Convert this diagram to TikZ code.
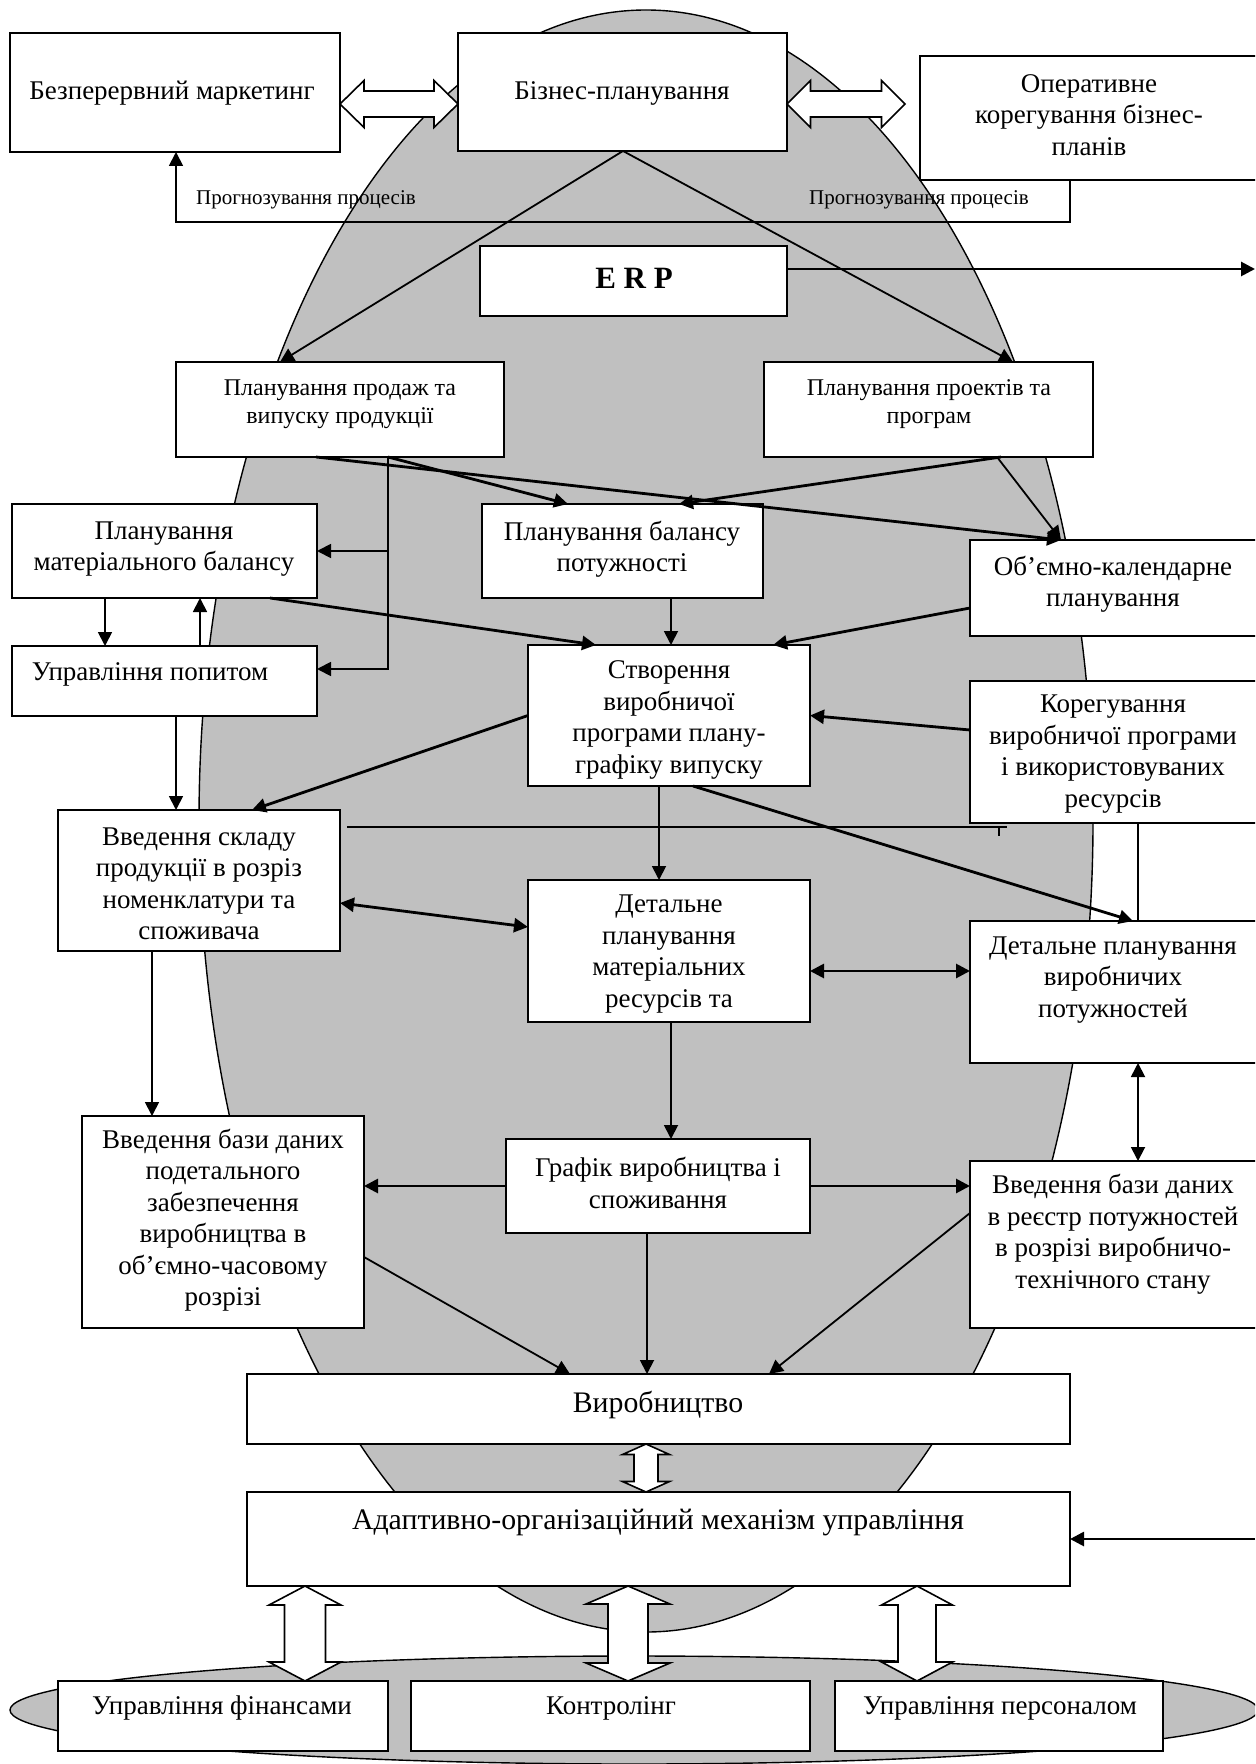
\documentclass[tikz,border=0pt]{standalone}
\usepackage{fontspec}
\setmainfont{Liberation Serif}
\usetikzlibrary{arrows.meta,calc,fit}
\definecolor{grayfill}{RGB}{192,192,192}
\newcommand\hollowV[5]{\path[hollow] let \p1=#1, \p2=#2 in (\x1,\y1) -- (\x1+#4,\y1-#5) -- (\x1+#3,\y1-#5) -- (\x1+#3,\y2+#5) -- (\x1+#4,\y2+#5) -- (\x1,\y2) -- (\x1-#4,\y2+#5) -- (\x1-#3,\y2+#5) -- (\x1-#3,\y1-#5) -- (\x1-#4,\y1-#5) -- cycle;}
\newcommand\hollowH[5]{\path[hollow] let \p1=#1, \p2=#2 in (\x1,\y1) -- (\x1+#5,\y1+#4) -- (\x1+#5,\y1+#3) -- (\x2-#5,\y1+#3) -- (\x2-#5,\y1+#4) -- (\x2,\y1) -- (\x2-#5,\y1-#4) -- (\x2-#5,\y1-#3) -- (\x1+#5,\y1-#3) -- (\x1+#5,\y1-#4) -- cycle;}
\begin{document}
\begin{tikzpicture}[x=0.5pt,y=-0.5pt,
  box/.style={draw, line width=0.8pt, fill=white, inner sep=0pt, outer sep=0pt},
  txt/.style={font=\fontsize{13.5}{15.75}\selectfont, align=center, inner sep=0pt},
  btxt/.style={font=\fontsize{14.9}{17}\selectfont, align=center, inner sep=0pt},
  stxt/.style={font=\fontsize{12}{14}\selectfont, align=center, inner sep=0pt},
  lbl/.style={font=\fontsize{10.5}{12}\selectfont, inner sep=0pt},
  ln/.style={line width=0.9pt},
  tk/.style={line width=1.4pt},
  arr/.style={-{Triangle[length=7pt,width=7pt]}},
  darr/.style={{Triangle[length=7pt,width=7pt]}-{Triangle[length=7pt,width=7pt]}},
  hollow/.style={draw, line width=0.8pt, fill=white, line join=miter},
  bg/.style={draw, line width=0.7pt, fill=grayfill}]
\useasboundingbox (0,0) rectangle (1255,1764);
\clip (0,0) rectangle (1255,1764);
\fill[white] (0,0) rectangle (1255,1764);
% background ellipses
\path[bg] (646,821) ellipse [x radius=223.5pt, y radius=405.5pt];
\path[bg] (634,1710) ellipse [x radius=312pt, y radius=27pt];
% boxes
\node[box, fit={(10,33) (340,152)}] (mark) {};
\node[box, fit={(458,33) (787,151)}] (biz) {};
\node[box, fit={(920,56) (1258,180)}] (oper) {};
\node[box, fit={(480,246) (787,316)}] (erp) {};
\node[box, fit={(176,362) (504,457)}] (prod) {};
\node[box, fit={(764,362) (1093,457)}] (proj) {};
\node[box, fit={(12,504) (317,598)}] (matb) {};
\node[box, fit={(482,504) (763,598)}] (balp) {};
\node[box, fit={(970,540) (1258,636)}] (obk) {};
\node[box, fit={(12,646) (317,716)}] (upop) {};
\node[box, fit={(528,645) (810,786)}] (stv) {};
\node[box, fit={(970,681) (1258,823)}] (kor) {};
\node[box, fit={(58,810) (340,951)}] (vsk) {};
\node[box, fit={(528,880) (810,1022)}] (dmr) {};
\node[box, fit={(970,921) (1258,1063)}] (dvp) {};
\node[box, fit={(82,1116) (364,1328)}] (pod) {};
\node[box, fit={(506,1139) (810,1233)}] (graf) {};
\node[box, fit={(970,1161) (1258,1328)}] (reyestr) {};
\node[box, fit={(247,1374) (1070,1444)}] (vyr) {};
\node[box, fit={(247,1492) (1070,1586)}] (adapt) {};
\node[box, fit={(58,1681) (388,1751)}] (fin) {};
\node[box, fit={(411,1681) (810,1751)}] (kontr) {};
\node[box, fit={(835,1681) (1163,1751)}] (pers) {};
% texts
\node[txt] (markT) at (172,93) {Безперервний маркетинг};
\node[txt] (bizT) at (622,93) {Бізнес-планування};
\node[txt] (operT) at (1089,115) {Оперативне\\корегування бізнес-\\планів};
\node[inner sep=0pt, font=\bfseries\fontsize{15.5}{18}\selectfont] (erpT) at (634,278) {E R P};
\node[stxt] (prodT) at (340,404) {Планування продаж та\\випуску продукції};
\node[stxt] (projT) at (929,404) {Планування проектів та\\програм};
\node[txt] (matbT) at (164,549) {Планування\\матеріального балансу};
\node[txt] (balpT) at (622,549) {Планування балансу\\потужності};
\node[txt] (obkT) at (1113,584) {Об'ємно-календарне\\планування};
\node[txt] (upopT) at (150,674) {Управління попитом};
\node[txt] (stvT) at (669,720) {Створення\\виробничої\\програми плану-\\графіку випуску};
\node[txt] (korT) at (1113,754) {Корегування\\виробничої програми\\і використовуваних\\ресурсів};
\node[txt] (vskT) at (199,884) {Введення складу\\продукції в розріз\\номенклатури та\\споживача};
\node[txt] (dmrT) at (669,954) {Детальне\\планування\\матеріальних\\ресурсів та};
\node[txt] (dvpT) at (1113,980) {Детальне планування\\виробничих\\потужностей};
\node[txt] (podT) at (223,1220) {Введення бази даних\\подетального\\забезпечення\\виробництва в\\об'ємно-часовому\\розрізі};
\node[txt] (grafT) at (658,1183) {Графік виробництва і\\споживання};
\node[txt] (reyestrT) at (1113,1234) {Введення бази даних\\в реєстр потужностей\\в розрізі виробничо-\\технічного стану};
\node[btxt] (vyrT) at (658,1405) {Виробництво};
\node[btxt] (adaptT) at (658,1522) {Адаптивно-організаційний механізм управління};
\node[txt] (finT) at (222,1708) {Управління фінансами};
\node[txt] (kontrT) at (611,1708) {Контролінг};
\node[txt] (persT) at (1000,1708) {Управління персоналом};
\node[lbl] (lbl1) at (306,200) {Прогнозування процесів};
\node[lbl] (lbl2) at (919,200) {Прогнозування процесів};
% connectors
\coordinate (bzs) at ($(biz.south west)+(165,0)$);
\draw[ln,arr] (bzs) -- ($(prod.north west)+(104,0)$);
\draw[ln,arr] (bzs) -- ($(proj.north west)+(249,0)$);
\draw[ln,arr] ($(oper.south west)+(150,0)$) -- ++(0,42) -| ($(mark.south west)+(166,0)$);
\coordinate (erpR) at (1255,269);
\draw[tk,arr] ($(erp.east)+(0,-12)$) -- (erpR);
\coordinate (pv) at ($(prod.south west)+(212,0)$);
\draw[tk,arr] ($(prod.south west)+(140,0)$) -- ($(obk.north west)+(91,0)$);
\draw[tk,arr] (pv) -- ($(balp.north west)+(86,0)$);
\draw[tk,arr] ($(proj.south west)+(237,0)$) -- ($(balp.north west)+(197,0)$);
\draw[ln,arr] ($(proj.south west)+(233,0)$) -- ($(obk.north west)+(91,0)$);
\draw[ln,arr] (pv) |- ($(upop.east)+(0,-12)$);
\draw[ln,arr] (pv |- matb.east) -- (matb.east);
\coordinate (m1) at ($(matb.south west)+(93,0)$);
\draw[ln,arr] (m1) -- (m1 |- upop.north);
\coordinate (m2) at ($(upop.north west)+(188,0)$);
\draw[ln,arr] (m2) -- (m2 |- matb.south);
\draw[tk,arr] ($(matb.south west)+(258,0)$) -- ($(stv.north west)+(68,0)$);
\coordinate (b1) at ($(balp.south west)+(189,0)$);
\draw[ln,arr] (b1) -- (b1 |- stv.north);
\draw[tk,arr] ($(obk.west)+(0,20)$) -- ($(stv.north west)+(245,0)$);
\coordinate (u1) at ($(upop.south west)+(164,0)$);
\draw[ln,arr] (u1) -- (u1 |- vsk.north);
\draw[tk,arr] (stv.west) -- ($(vsk.north west)+(194,0)$);
\draw[tk,arr] ($(kor.west)+(0,-22)$) -- (stv.east);
\coordinate (tkend) at ($(kor.south west)+(37,4)$);
\draw[ln] ($(vsk.north east)+(7,17)$) -- (tkend);
\draw[ln] ($(kor.south west)+(29,4)$) -- ++(0,9);
\coordinate (k1) at ($(kor.south west)+(168,0)$);
\draw[ln] (k1) -- (k1 |- dvp.north);
\coordinate (s1) at ($(stv.south west)+(131,0)$);
\draw[ln,arr] (s1) -- (s1 |- dmr.north);
\draw[tk,arr] ($(stv.south west)+(165,0)$) -- ($(dvp.north west)+(163,0)$);
\draw[tk,darr] ($(vsk.east)+(0,22.5)$) -- ($(dmr.west)+(0,-24)$);
\coordinate (d1) at ($(dmr.east)+(0,20)$);
\draw[tk,darr] (d1) -- (d1 -| dvp.west);
\coordinate (v1) at ($(vsk.south west)+(94,0)$);
\draw[ln,arr] (v1) -- (v1 |- pod.north);
\coordinate (d2) at ($(dmr.south west)+(143,0)$);
\draw[ln,arr] (d2) -- (d2 |- graf.north);
\coordinate (d3) at ($(dvp.south west)+(168,0)$);
\draw[ln,darr] (d3) -- (d3 |- reyestr.north);
\draw[tk,arr] (graf.west) -- (graf.west -| pod.east);
\draw[tk,arr] (graf.east) -- (graf.east -| reyestr.west);
\draw[ln,arr] ($(pod.east)+(0,35)$) -- ($(vyr.north west)+(323,0)$);
\coordinate (g1) at ($(graf.south west)+(141,0)$);
\draw[ln,arr] (g1) -- (g1 |- vyr.north);
\draw[ln,arr] ($(reyestr.west)+(0,-31.5)$) -- ($(vyr.north west)+(522,0)$);
\coordinate (adR) at (1255,1539);
\draw[tk,arr] (adR) -- (adapt.east);
% hollow double arrows
\hollowH{($(mark.east)+(0,11.5)$)}{($(biz.west)+(0,12)$)}{6.5pt}{11.75pt}{12pt}
\hollowH{($(biz.east)+(0,12)$)}{($(oper.west)+(-15,-14)$)}{6.5pt}{11.75pt}{11.75pt}
\hollowV{($(vyr.south)+(-12.5,0)$)}{($(adapt.north)+(-12.5,0)$)}{6pt}{11.75pt}{5.25pt}
\hollowV{($(adapt.south west)+(58,0)$)}{($(fin.north west)+(247,0)$)}{10.25pt}{18pt}{9.5pt}
\hollowV{($(adapt.south west)+(381,0)$)}{($(kontr.north west)+(217,0)$)}{10pt}{21pt}{9pt}
\hollowV{($(adapt.south west)+(670,0)$)}{($(pers.north west)+(82,0)$)}{9.5pt}{17.75pt}{9.5pt}
\end{tikzpicture}
\end{document}
